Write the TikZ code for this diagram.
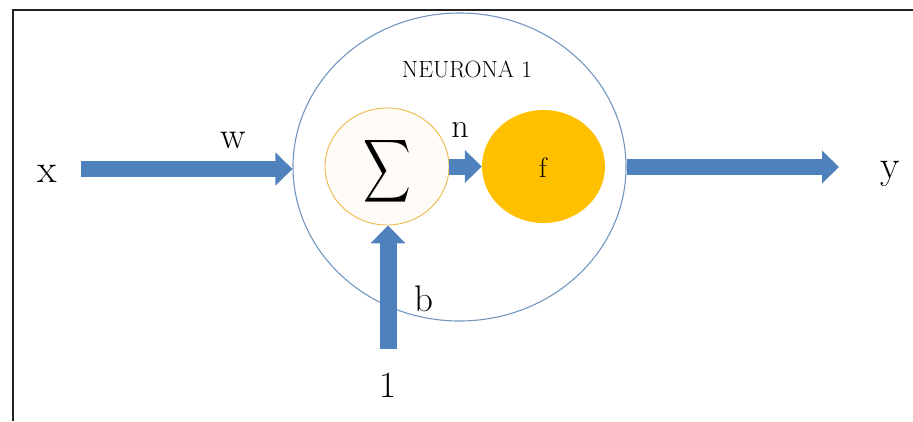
\documentclass[tikz,border=0pt]{standalone}
\usetikzlibrary{arrows.meta,shapes.geometric}
\definecolor{arrowblue}{RGB}{79,129,189}
\definecolor{neuronline}{RGB}{115,150,190}
\definecolor{sumline}{RGB}{236,186,72}
\definecolor{sumfill}{RGB}{255,251,246}
\definecolor{fgold}{RGB}{255,192,0}
\definecolor{frameline}{RGB}{35,35,35}
\tikzset{
  bigarrow/.style={draw=arrowblue, line width=16pt, line cap=butt,
    -{Triangle[length=17pt,width=32pt]}},
  uparrow/.style={draw=arrowblue, line width=17pt, line cap=butt,
    -{Triangle[length=18pt,width=34pt]}},
  lbl/.style={inner sep=0pt, anchor=base, text=black},
}
\begin{document}
\begin{tikzpicture}[x=1pt,y=-1pt]
\useasboundingbox (0,0) rectangle (913,421);
% frame
\draw[frameline, line width=2pt] (13,421) -- (13,10) -- (913,10);
% neuron
\node[ellipse, draw=neuronline, line width=1.1pt, minimum width=333pt, minimum height=308pt, inner sep=0pt] (neuron) at (459.5,167) {};
\node[lbl, font=\fontsize{23.5}{23.5}\selectfont] (title) at (467,77) {NEURONA 1};
% summation
\node[ellipse, draw=sumline, fill=sumfill, line width=0.9pt, minimum width=124pt, minimum height=117pt, inner sep=0pt] (sum) at (387,166.5) {};
\node[inner sep=0pt] (sigma) at (387,171) {\scalebox{3.3}[4.4]{$\displaystyle\sum$}};
% activation
\node[ellipse, fill=fgold, minimum width=123pt, minimum height=113pt, inner sep=0pt] (fnode) at (543.5,166.5) {};
\node[lbl, font=\fontsize{28}{28}\selectfont] (flab) at (543,177) {f};
% labels
\node[lbl, font=\fontsize{40}{40}\selectfont] (xlab) at (47,182) {x};
\node[lbl, font=\fontsize{38}{38}\selectfont] (wlab) at (233,148) {w};
\node[lbl, font=\fontsize{40}{40}\selectfont] (ylab) at (890,178) {y};
\node[lbl, font=\fontsize{34}{34}\selectfont] (nlab) at (460,137) {n};
\node[lbl, font=\fontsize{37}{37}\selectfont] (blab) at (424,311) {b};
\node[lbl, font=\fontsize{37}{37}\selectfont] (onelab) at (388,397) {1};
% connectors
\coordinate (xs) at (81,169);
\coordinate (ye) at (839,167);
\coordinate (bs) at (388,349);
\draw[bigarrow] (xs) -- (neuron.west |- xs);
\draw[bigarrow] (neuron.east) -- (ye);
\draw[bigarrow] (sum.east) -- (fnode.west);
\draw[uparrow] (bs) -- (bs |- sum.south);
\end{tikzpicture}
\end{document}
